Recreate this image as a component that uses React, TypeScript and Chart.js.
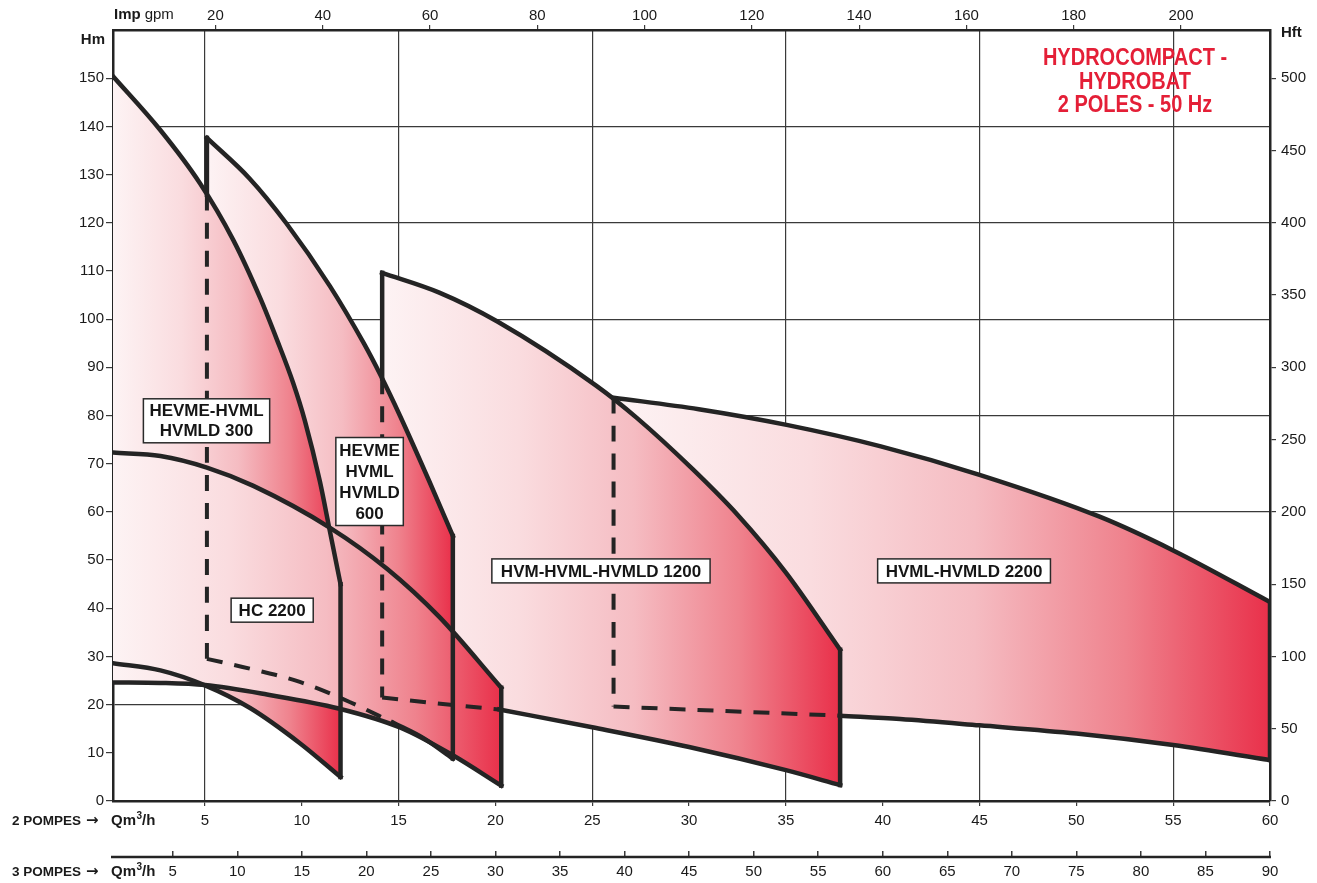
import React, { useEffect, useRef } from "react";
import { Chart, registerables } from "chart.js";

Chart.register(...registerables);

// ---------- axes ----------
const Q_MIN = 0.25;
const Q_MAX = 60;
const H_MAX = 160;
const Q2_TICKS = [5, 10, 15, 20, 25, 30, 35, 40, 45, 50, 55, 60];
const Q3_TICKS = [5, 10, 15, 20, 25, 30, 35, 40, 45, 50, 55, 60, 65, 70, 75, 80, 85, 90];
const GPM_TICKS = [20, 40, 60, 80, 100, 120, 140, 160, 180, 200];
const HM_TICKS = [0, 10, 20, 30, 40, 50, 60, 70, 80, 90, 100, 110, 120, 130, 140, 150];
const HFT_TICKS = [0, 50, 100, 150, 200, 250, 300, 350, 400, 450, 500];
const Q3_PER_Q2 = 1.5;
const GPM_PER_M3H = 3.61;
const FT_PER_M = 500 / 150;

// ---------- curves (Q m3/h, H m) ----------
const HC_UP_Q = [0.25, 2.7, 5.1, 7.5, 11.46, 14.4, 17.1, 20.3];
const HC_UP_H = [72.3, 71.6, 69.2, 65.4, 56.7, 48.2, 38.2, 23.5];
const HC_LO_Q = [0.25, 2.7, 5.0, 8.2, 11.9, 15.1, 17.8, 20.3];
const HC_LO_H = [24.6, 24.5, 24.05, 22.1, 19.2, 15.2, 9.5, 3.2];

const P300_UP_Q = [0.25, 2.68, 4.74, 6.45, 7.86, 8.72, 9.55, 10.16, 10.93, 11.45, 12.0];
const P300_UP_H = [150.4, 139.3, 128.2, 116.5, 104.3, 95.7, 86.8, 78.9, 66.4, 56.0, 45.0];
const P300_LO_Q = [0.25, 2.7, 5.0, 7.33, 9.9, 12.0];
const P300_LO_H = [28.6, 27.1, 24.0, 19.3, 12.0, 5.0];

const P600_UP_Q = [5.1, 7.3, 9.2, 11.46, 13.2, 14.05, 15.1, 16.6, 17.8];
const P600_UP_H = [137.6, 129.2, 119.9, 106.8, 95.0, 88.5, 79.7, 66.2, 55.0];
const P600_LO_Q = [5.1, 7.5, 9.9, 12.5, 14.7, 16.3, 17.8];
const P600_LO_H = [29.5, 27.3, 24.7, 20.5, 16.3, 13.0, 8.8];
const P600_LEFT_HIDDEN_TOP = 125.8; // where the 300 curve hides the 600 edge
const P600_LO_HIDDEN_END = 14.7;

const P1200_UP_Q = [14.15, 17.1, 20.1, 25.2, 27.3, 30.2, 32.5, 35.0, 37.8];
const P1200_UP_H = [109.6, 105.5, 99.5, 86.2, 79.5, 68.8, 59.4, 47.4, 31.4];
const P1200_LO_Q = [14.15, 17.8, 20.2, 25, 30, 35, 37.8];
const P1200_LO_H = [21.5, 19.9, 19.0, 15.3, 11.2, 6.4, 3.3];
const P1200_LEFT_HIDDEN_TOP = 87.7;
const P1200_LO_HIDDEN_END = 20.2;

const P2200_UP_Q = [26.1, 30.5, 35.1, 39.9, 45, 51.2, 55, 60];
const P2200_UP_H = [83.7, 81.3, 78.0, 73.6, 67.7, 59.0, 52.0, 41.3];
const P2200_LO_Q = [26.1, 37.8, 40.9, 45, 50, 55, 60];
const P2200_LO_H = [19.6, 17.7, 17.0, 15.7, 14.0, 11.6, 8.5];
const P2200_LO_HIDDEN_END = 37.8;

// ---------- annotations ----------
const TITLE_LINES = ["HYDROCOMPACT -", "HYDROBAT", "2 POLES - 50 Hz"];
const LABELS = [
  { lines: ["HEVME-HVML", "HVMLD 300"], q: 5.08, h: 78.9, padX: 6, lineH: 20 },
  { lines: ["HEVME", "HVML", "HVMLD", "600"], q: 13.5, h: 66.3, padX: 3.5, lineH: 21 },
  { lines: ["HC 2200"], q: 8.47, h: 39.6, padX: 7.5, lineH: 20 },
  { lines: ["HVM-HVML-HVMLD 1200"], q: 25.45, h: 47.75, padX: 9, lineH: 20 },
  { lines: ["HVML-HVMLD 2200"], q: 44.2, h: 47.75, padX: 8, lineH: 20 },
];

type Pt = { x: number; y: number };
const P = (q: number[], h: number[]): Pt[] => q.map((x, i) => ({ x, y: h[i] }));
const last = (a: Pt[]) => a[a.length - 1];

const FONT = "'Liberation Sans', Arial, Helvetica, sans-serif";
const INK = "#242424";

function redGradient(chart: any, q0: number, q1: number) {
  const xs = chart.scales && chart.scales.x;
  if (!xs || !chart.chartArea) return "rgba(240,120,130,0.6)";
  const x0 = xs.getPixelForValue(q0);
  const x1 = xs.getPixelForValue(q1);
  const g = chart.ctx.createLinearGradient(x0, 0, x1, 0);
  g.addColorStop(0, "#fdf3f4");
  g.addColorStop(0.3, "#fadcdf");
  g.addColorStop(0.55, "#f5bcc2");
  g.addColorStop(0.78, "#ef828d");
  g.addColorStop(1, "#e9304a");
  return g;
}

const base = { showLine: true, pointRadius: 0, cubicInterpolationMode: "monotone" };

function upperFill(data: Pt[], target: number) {
  const q0 = data[0].x, q1 = last(data).x;
  return {
    ...base,
    data,
    fill: target,
    borderWidth: 0,
    borderColor: "rgba(0,0,0,0)",
    backgroundColor: (c: any) => redGradient(c.chart, q0, q1),
  };
}

function lowerTarget(data: Pt[]) {
  return { ...base, data, fill: false, borderWidth: 0, borderColor: "rgba(0,0,0,0)" };
}

function outline(data: Pt[], dashed = false) {
  return {
    ...base,
    data,
    fill: false,
    borderColor: INK,
    borderWidth: dashed ? 4 : 4.5,
    borderDash: dashed ? [16, 12] : [],
    borderCapStyle: dashed ? "butt" : "square",
    borderJoinStyle: "miter",
  };
}

function edge(x: number, y0: number, y1: number, dashed = false) {
  return outline([{ x, y: y0 }, { x, y: y1 }], dashed);
}

function buildDatasets() {
  const hcU = P(HC_UP_Q, HC_UP_H), hcL = P(HC_LO_Q, HC_LO_H);
  const s3U = P(P300_UP_Q, P300_UP_H), s3L = P(P300_LO_Q, P300_LO_H);
  const s6U = P(P600_UP_Q, P600_UP_H), s6L = P(P600_LO_Q, P600_LO_H);
  const s12U = P(P1200_UP_Q, P1200_UP_H), s12L = P(P1200_LO_Q, P1200_LO_H);
  const s22U = P(P2200_UP_Q, P2200_UP_H), s22L = P(P2200_LO_Q, P2200_LO_H);

  const uppers = [hcU, s3U, s6U, s12U, s22U];
  const lowers = [hcL, s3L, s6L, s12L, s22L];
  const n = uppers.length;

  const ds: any[] = [];
  // fills (first = drawn on top)
  uppers.forEach((u, i) => ds.push(upperFill(u, n + i)));
  lowers.forEach((l) => ds.push(lowerTarget(l)));

  // HC 2200
  ds.push(outline(hcU), outline(hcL), edge(last(hcU).x, last(hcU).y, last(hcL).y));
  // 300
  ds.push(outline(s3U), outline(s3L), edge(last(s3U).x, last(s3U).y, last(s3L).y));
  // 600
  ds.push(
    outline(s6U),
    edge(last(s6U).x, last(s6U).y, last(s6L).y),
    outline(s6L.filter((p) => p.x >= P600_LO_HIDDEN_END)),
    outline(s6L.filter((p) => p.x <= P600_LO_HIDDEN_END), true),
    edge(s6U[0].x, P600_LEFT_HIDDEN_TOP, s6U[0].y),
    edge(s6U[0].x, P600_LEFT_HIDDEN_TOP, s6L[0].y, true)
  );
  // 1200
  ds.push(
    outline(s12U),
    edge(last(s12U).x, last(s12U).y, last(s12L).y),
    outline(s12L.filter((p) => p.x >= P1200_LO_HIDDEN_END)),
    outline(s12L.filter((p) => p.x <= P1200_LO_HIDDEN_END), true),
    edge(s12U[0].x, P1200_LEFT_HIDDEN_TOP, s12U[0].y),
    edge(s12U[0].x, P1200_LEFT_HIDDEN_TOP, s12L[0].y, true)
  );
  // 2200
  ds.push(
    outline(s22U),
    edge(last(s22U).x, last(s22U).y, last(s22L).y),
    outline(s22L.filter((p) => p.x >= P2200_LO_HIDDEN_END)),
    outline(s22L.filter((p) => p.x <= P2200_LO_HIDDEN_END), true),
    edge(s22U[0].x, s22U[0].y, s22L[0].y, true)
  );
  return ds;
}

const fixedTicks = (vals: number[]) => (s: any) => {
  s.ticks = vals.map((v) => ({ value: v }));
};

const tickFont = { family: FONT, size: 15 };

function drawText(ctx: CanvasRenderingContext2D, text: string, x: number, y: number, font: string, align: CanvasTextAlign = "left") {
  ctx.font = font;
  ctx.textAlign = align;
  ctx.textBaseline = "middle";
  ctx.fillText(text, x, y);
  return ctx.measureText(text).width;
}

function drawPompes(ctx: CanvasRenderingContext2D, label: string, qx: number, y: number) {
  ctx.fillStyle = "#1a1a1a";
  drawText(ctx, label, 12, y, `bold 13.5px ${FONT}`);
  drawText(ctx, "\u2192", 86, y, `bold 15px 'DejaVu Sans', ${FONT}`);
  let x = qx;
  x += drawText(ctx, "Qm", x, y, `bold 15px ${FONT}`);
  x += drawText(ctx, "3", x + 0.5, y - 5, `bold 10px ${FONT}`) + 0.5;
  drawText(ctx, "/h", x, y, `bold 15px ${FONT}`);
}

const extrasPlugin = {
  id: "extras",
  afterDatasetsDraw(chart: any) {
    const ctx: CanvasRenderingContext2D = chart.ctx;
    const xs = chart.scales.x, ys = chart.scales.y;
    ctx.save();
    const font = `bold 17px ${FONT}`;
    ctx.font = font;
    for (const lb of LABELS) {
      const cx = xs.getPixelForValue(lb.q);
      const cy = ys.getPixelForValue(lb.h);
      let w = 0;
      for (const l of lb.lines) w = Math.max(w, ctx.measureText(l).width);
      const bw = w + lb.padX * 2;
      const bh = lb.lines.length * lb.lineH + 4;
      ctx.fillStyle = "#ffffff";
      ctx.fillRect(cx - bw / 2, cy - bh / 2, bw, bh);
      ctx.strokeStyle = "#2a2a2a";
      ctx.lineWidth = 1.5;
      ctx.strokeRect(cx - bw / 2, cy - bh / 2, bw, bh);
      ctx.fillStyle = "#151515";
      lb.lines.forEach((l, i) => {
        drawText(ctx, l, cx, cy + (i - (lb.lines.length - 1) / 2) * lb.lineH + 1, font, "center");
      });
    }
    ctx.restore();
  },
  afterDraw(chart: any) {
    const ctx: CanvasRenderingContext2D = chart.ctx;
    const a = chart.chartArea;
    ctx.save();
    // 3 pompes axis line
    const x3 = chart.scales.x3;
    ctx.strokeStyle = INK;
    ctx.lineWidth = 2.5;
    ctx.beginPath();
    ctx.moveTo(a.left - 2, x3.top + 6);
    ctx.lineTo(a.right + 1, x3.top + 6);
    ctx.stroke();

    ctx.fillStyle = "#1a1a1a";
    // axis titles
    drawText(ctx, "Hm", a.left - 8, a.top + 10, `bold 15px ${FONT}`, "right");
    const w = drawText(ctx, "Imp", a.left + 1, 15, `bold 15px ${FONT}`);
    drawText(ctx, "gpm", a.left + 1 + w + 4, 15, `15px ${FONT}`);
    drawText(ctx, "Hft", a.right + 11, a.top + 3, `bold 15px ${FONT}`);
    drawPompes(ctx, "2 POMPES", a.left - 2, chart.scales.x.top + 20);
    drawPompes(ctx, "3 POMPES", a.left - 2, x3.top + 21);

    // red title
    ctx.fillStyle = "#e41f37";
    ctx.font = `bold 23px ${FONT}`;
    ctx.textAlign = "center";
    ctx.textBaseline = "middle";
    const cx = a.right - 135;
    TITLE_LINES.forEach((t, i) => {
      ctx.save();
      ctx.translate(cx, a.top + 29 + i * 23.5);
      ctx.scale(0.87, 1);
      ctx.fillText(t, 0, 0);
      ctx.restore();
    });
    ctx.restore();
  },
};

export default function App() {
  const ref = useRef<HTMLCanvasElement | null>(null);
  useEffect(() => {
    if (!ref.current) return;
    const gridColor = "#3a3a3a";
    const chart = new Chart(ref.current, {
      type: "scatter",
      data: { datasets: buildDatasets() as any },
      options: {
        responsive: false,
        animation: false,
        events: [],
        layout: { padding: 0 },
        plugins: {
          legend: { display: false },
          tooltip: { enabled: false },
          filler: { drawTime: "beforeDatasetsDraw" } as any,
        },
        scales: {
          x: {
            type: "linear",
            position: "bottom",
            min: Q_MIN,
            max: Q_MAX,
            afterBuildTicks: fixedTicks(Q2_TICKS),
            afterFit: (s: any) => { s.height = 50; },
            ticks: { font: tickFont, color: "#1a1a1a", padding: 6, autoSkip: false, maxRotation: 0 },
            grid: {
              color: (c: any) => (c.tick && c.tick.value % 10 === 5 ? gridColor : "rgba(0,0,0,0)"),
              tickColor: gridColor,
              lineWidth: 1.2,
              tickLength: 5,
            },
            border: { display: true, color: INK, width: 2.5 },
          },
          x3: {
            type: "linear",
            position: "bottom",
            weight: 1,
            min: Q_MIN * Q3_PER_Q2,
            max: Q_MAX * Q3_PER_Q2,
            afterBuildTicks: fixedTicks(Q3_TICKS),
            afterFit: (s: any) => { s.height = 32; },
            ticks: { font: tickFont, color: "#1a1a1a", padding: 6, autoSkip: false, maxRotation: 0 },
            grid: { drawOnChartArea: false, color: gridColor, lineWidth: 1.5, tickLength: 6 },
            border: { display: false },
          },
          x2: {
            type: "linear",
            position: "top",
            min: Q_MIN * GPM_PER_M3H,
            max: Q_MAX * GPM_PER_M3H,
            afterBuildTicks: fixedTicks(GPM_TICKS),
            afterFit: (s: any) => { s.height = 30; },
            ticks: { font: tickFont, color: "#1a1a1a", padding: 0, autoSkip: false, maxRotation: 0 },
            grid: { drawOnChartArea: false, color: gridColor, lineWidth: 1.2, tickLength: 5 },
            border: { display: true, color: INK, width: 2.5 },
          },
          y: {
            type: "linear",
            position: "left",
            min: 0,
            max: H_MAX,
            afterBuildTicks: fixedTicks(HM_TICKS),
            afterFit: (s: any) => { s.width = 113; },
            ticks: { font: tickFont, color: "#1a1a1a", padding: 2, autoSkip: false },
            grid: {
              color: (c: any) => (c.tick && c.tick.value % 20 === 0 && c.tick.value > 0 ? gridColor : "rgba(0,0,0,0)"),
              tickColor: gridColor,
              lineWidth: 1.2,
              tickLength: 7,
            },
            border: { display: true, color: INK, width: 2.5 },
          },
          y2: {
            type: "linear",
            position: "right",
            min: 0,
            max: H_MAX * FT_PER_M,
            afterBuildTicks: fixedTicks(HFT_TICKS),
            afterFit: (s: any) => { s.width = 47; },
            ticks: { font: tickFont, color: "#1a1a1a", padding: 5, autoSkip: false },
            grid: { drawOnChartArea: false, color: gridColor, lineWidth: 1.2, tickLength: 6 },
            border: { display: true, color: INK, width: 2.5 },
          },
        },
      } as any,
      plugins: [extrasPlugin],
    });
    return () => chart.destroy();
  }, []);

  return (
    <div style={{ position: "fixed", left: 0, top: 0, width: 1317, height: 883, background: "#ffffff" }}>
      <canvas ref={ref} width={1317} height={883} style={{ width: 1317, height: 883, display: "block" }} />
    </div>
  );
}
